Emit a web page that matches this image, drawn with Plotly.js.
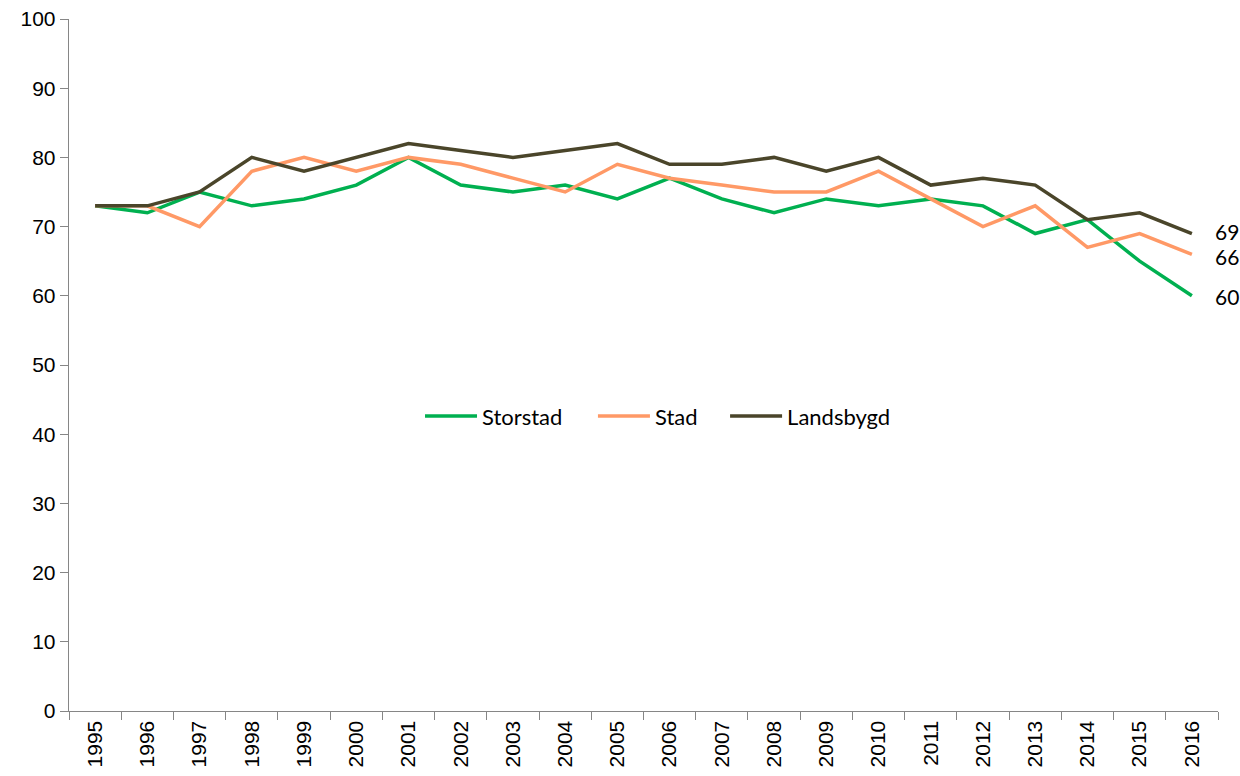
<!DOCTYPE html>
<html>
<head>
<meta charset="utf-8">
<script src="https://cdn.plot.ly/plotly-3.0.1.min.js"></script>
<style>html,body{margin:0;padding:0;background:#fff;}#chart{width:1240px;height:776px;}</style>
</head>
<body>
<div id="chart"></div>
<script>
const years = ["1995","1996","1997","1998","1999","2000","2001","2002","2003","2004","2005","2006","2007","2008","2009","2010","2011","2012","2013","2014","2015","2016"];
const storstad = [73,72,75,73,74,76,80,76,75,76,74,77,74,72,74,73,74,73,69,71,65,60];
const stad = [73,73,70,78,80,78,80,79,77,75,79,77,76,75,75,78,74,70,73,67,69,66];
const landsbygd = [73,73,75,80,78,80,82,81,80,81,82,79,79,80,78,80,76,77,76,71,72,69];
const seriesNames = ["Storstad","Stad","Landsbygd"];
const seriesColors = ["#00B050","#FF9966","#4A452A"];
const seriesData = [storstad, stad, landsbygd];

const labelFont = {family: "Lato, 'Open Sans', sans-serif", size: 22, color: "#000"};
const endLabelFont = {family: "Lato, 'Open Sans', sans-serif", size: 21, color: "#000"};
const tickFont = {family: "'Liberation Sans', Arial, sans-serif", size: 21, color: "#000"};

const legendIds = ["legend", "legend2", "legend3"];
const legendX = [0.3055, 0.456, 0.571];
const labelShift = [-1, -2, 2];

const last = years.length - 1;
const traces = seriesData.map((d, i) => ({
  x: years, y: d, type: "scatter", mode: "lines", name: seriesNames[i],
  legend: legendIds[i],
  line: {color: seriesColors[i], width: 3.5}
}));

const annotations = seriesData.map((d, i) => ({
  x: last, y: d[last], xref: "x", yref: "y", text: String(d[last]),
  showarrow: false, xanchor: "left", yanchor: "middle", xshift: 21, yshift: labelShift[i],
  font: endLabelFont
}));

const layout = {
  width: 1240, height: 776,
  margin: {l: 69, r: 22, t: 19, b: 65},
  paper_bgcolor: "#fff", plot_bgcolor: "#fff",
  showlegend: true,
  xaxis: {type: "category", range: [-0.5, 21.5], tickson: "boundaries", ticks: "outside", ticklen: 8,
          tickcolor: "#868686", showline: true, linecolor: "#868686", linewidth: 1.3,
          showgrid: false, zeroline: false, tickangle: -90, tickfont: tickFont, fixedrange: true},
  yaxis: {range: [0, 100], dtick: 10, ticks: "outside", ticklen: 8, tickcolor: "#868686",
          showline: true, linecolor: "#868686", linewidth: 1.3, showgrid: false, zeroline: false,
          tickfont: tickFont, fixedrange: true},
  annotations: annotations
};
legendIds.forEach((id, i) => {
  layout[id] = {orientation: "h", x: legendX[i], xanchor: "left", y: 0.426, yanchor: "middle",
                font: labelFont, bgcolor: "rgba(0,0,0,0)", itemwidth: 52};
});

Plotly.newPlot("chart", traces, layout, {displayModeBar: false, staticPlot: true});
</script>
</body>
</html>
